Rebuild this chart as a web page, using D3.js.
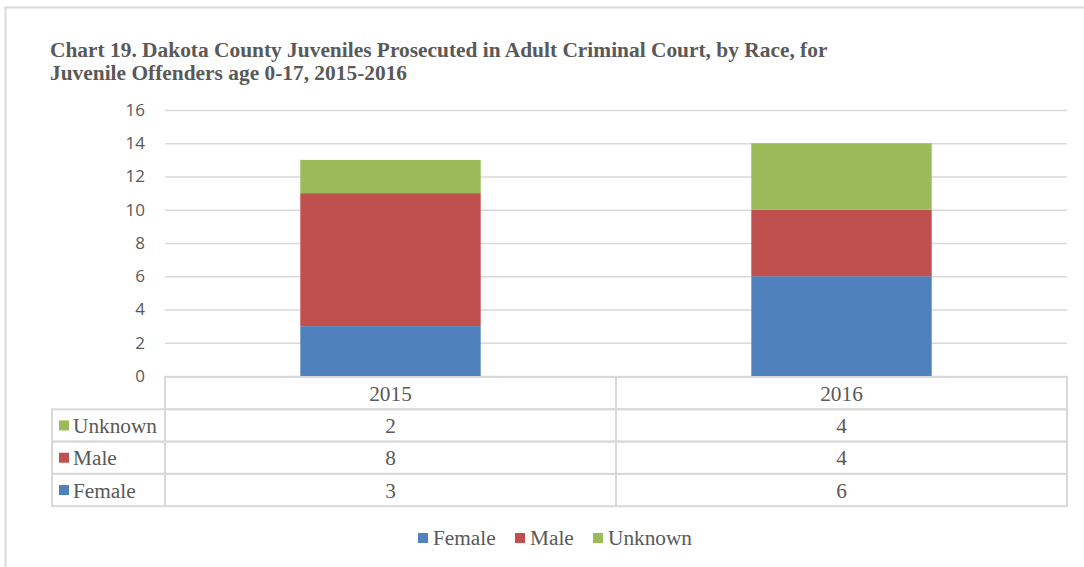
<!DOCTYPE html>
<html>
<head>
<meta charset="utf-8">
<script src="https://cdn.jsdelivr.net/npm/d3@7"></script>
<style>
  body { margin: 0; background: #fff; }
  svg { display: block; }
  .serif { font-family: "Liberation Serif", "Tinos", "Times New Roman", "DejaVu Serif", serif; }
  .sans { font-family: "Open Sans", "Liberation Sans", sans-serif; }
</style>
</head>
<body>
<svg id="chart"></svg>
<script>
const years = ["2015", "2016"];
const seriesNames = ["Female", "Male", "Unknown"];
const female = [3, 6];
const male = [8, 4];
const unknown = [2, 4];
const yTicks = [0, 2, 4, 6, 8, 10, 12, 14, 16];

const colors = { Female: "#4F81BD", Male: "#C0504D", Unknown: "#9BBB59" };
const size = { width: 1084, height: 567 };
const margin = { top: 110, right: 17, bottom: 191, left: 165 };
const textColor = "#595959";
const lineColor = "#D9D9D9";
const tableFont = 21.3;

const svg = d3.select("#chart")
  .attr("width", size.width)
  .attr("height", size.height);

// outer chart border
svg.append("rect")
  .attr("x", 5.5).attr("y", 7.5)
  .attr("width", size.width + 10).attr("height", size.height + 10)
  .attr("fill", "none").attr("stroke", lineColor).attr("stroke-width", 2);

// title
const title = svg.append("text")
  .attr("class", "serif").attr("font-weight", "bold")
  .attr("font-size", 21.4).attr("fill", textColor);
title.append("tspan").attr("x", 50).attr("y", 57)
  .text("Chart 19. Dakota County Juveniles Prosecuted in Adult Criminal Court, by Race, for");
title.append("tspan").attr("x", 50).attr("y", 80)
  .text("Juvenile Offenders age 0-17, 2015-2016");

const rows = years.map((yr, i) => ({
  year: yr, Female: female[i], Male: male[i], Unknown: unknown[i]
}));

const x = d3.scaleBand()
  .domain(years)
  .range([margin.left, size.width - margin.right]);

const y = d3.scaleLinear()
  .domain([0, 16])
  .range([size.height - margin.bottom, margin.top]);

// gridlines
svg.append("g")
  .selectAll("line")
  .data(yTicks)
  .join("line")
  .attr("x1", margin.left).attr("x2", size.width - margin.right)
  .attr("y1", d => y(d) + 0.5).attr("y2", d => y(d) + 0.5)
  .attr("stroke", lineColor).attr("stroke-width", 1.5);

// y labels
svg.append("g")
  .selectAll("text")
  .data(yTicks)
  .join("text")
  .attr("class", "sans")
  .attr("x", 145).attr("y", d => y(d))
  .attr("dy", "0.35em")
  .attr("text-anchor", "end")
  .attr("font-size", 17)
  .attr("fill", textColor)
  .text(d => d);

// stacked bars
const stack = d3.stack().keys(seriesNames)(rows);
const barW = x.bandwidth() * 0.4;
svg.append("g")
  .selectAll("g")
  .data(stack)
  .join("g")
  .attr("fill", d => colors[d.key])
  .selectAll("rect")
  .data(d => d)
  .join("rect")
  .attr("x", d => x(d.data.year) + (x.bandwidth() - barW) / 2)
  .attr("width", barW)
  .attr("y", d => y(d[1]))
  .attr("height", d => y(d[0]) - y(d[1]));

// data table
const tableTop = y(0) + 1;
const rowH = 32.3;
const tableLeft = 52;
const tableRight = size.width - margin.right;
const table = svg.append("g")
  .attr("fill", "none").attr("stroke", lineColor).attr("stroke-width", 2);

// header row (no left cell)
table.append("rect")
  .attr("x", margin.left).attr("y", tableTop)
  .attr("width", tableRight - margin.left).attr("height", rowH);
table.append("line")
  .attr("x1", x("2016")).attr("x2", x("2016"))
  .attr("y1", tableTop).attr("y2", tableTop + rowH * 4);

const tableRows = ["Unknown", "Male", "Female"];
const tableValues = { Unknown: unknown, Male: male, Female: female };
tableRows.forEach((name, i) => {
  const top = tableTop + rowH * (i + 1);
  table.append("rect")
    .attr("x", tableLeft).attr("y", top)
    .attr("width", tableRight - tableLeft).attr("height", rowH);
  table.append("line")
    .attr("x1", margin.left).attr("x2", margin.left)
    .attr("y1", top).attr("y2", top + rowH);

  svg.append("rect")
    .attr("x", 59).attr("y", top + rowH / 2 - 5)
    .attr("width", 10).attr("height", 10)
    .attr("fill", colors[name]);
  svg.append("text")
    .attr("class", "serif")
    .attr("x", 73).attr("y", top + rowH / 2)
    .attr("dy", "0.35em")
    .attr("font-size", tableFont)
    .attr("fill", textColor)
    .text(name);

  years.forEach((yr, j) => {
    svg.append("text")
      .attr("class", "serif")
      .attr("x", x(yr) + x.bandwidth() / 2).attr("y", top + rowH / 2)
      .attr("dy", "0.35em")
      .attr("text-anchor", "middle")
      .attr("font-size", tableFont)
      .attr("fill", textColor)
      .text(tableValues[name][j]);
  });
});

// year header labels
svg.append("g")
  .selectAll("text")
  .data(years)
  .join("text")
  .attr("class", "serif")
  .attr("x", d => x(d) + x.bandwidth() / 2)
  .attr("y", tableTop + rowH / 2)
  .attr("dy", "0.35em")
  .attr("text-anchor", "middle")
  .attr("font-size", tableFont)
  .attr("fill", textColor)
  .text(d => d);

// legend
const legendX = [418, 515, 593];
const legend = svg.append("g");
seriesNames.forEach((name, i) => {
  legend.append("rect")
    .attr("x", legendX[i]).attr("y", 533)
    .attr("width", 10).attr("height", 10)
    .attr("fill", colors[name]);
  legend.append("text")
    .attr("class", "serif")
    .attr("x", legendX[i] + 15).attr("y", 538)
    .attr("dy", "0.35em")
    .attr("font-size", tableFont)
    .attr("fill", textColor)
    .text(name);
});
</script>
</body>
</html>
